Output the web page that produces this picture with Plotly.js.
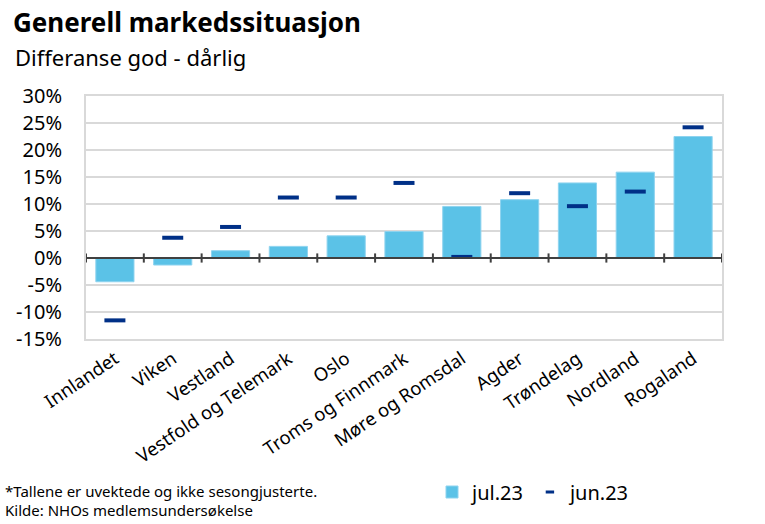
<!DOCTYPE html>
<html>
<head>
<meta charset="utf-8">
<script src="https://cdn.plot.ly/plotly-3.0.1.min.js"></script>
<style>html,body{margin:0;padding:0;background:#fff;}#chart{width:765px;height:524px;}</style>
</head>
<body>
<div id="chart"></div>
<script>
const categories = ["Innlandet","Viken","Vestland","Vestfold og Telemark","Oslo","Troms og Finnmark","Møre og Romsdal","Agder","Trøndelag","Nordland","Rogaland"];
const jul23 = [-4.4, -1.3, 1.35, 2.15, 4.1, 4.9, 9.55, 10.8, 13.9, 15.9, 22.5];
const jun23 = [-11.55, 3.75, 5.75, 11.2, 11.2, 13.9, 0.2, 12.0, 9.6, 12.3, 24.2];
const yTicks = [-15, -10, -5, 0, 5, 10, 15, 20, 25, 30];
const yTickLabels = yTicks.map(v => v + "%");

const FONT = "Noto Sans, Open Sans, sans-serif";
const NAVY = "#003087";

const traces = [
  {
    type: "bar", name: "jul.23", x: categories, y: jul23,
    marker: {color: "#5BC2E7", line: {color: "#8ed3ef", width: 1}},
    hoverinfo: "skip"
  },
  {
    type: "scatter", mode: "markers", name: "jun.23", x: categories, y: jun23, showlegend: false,
    marker: {symbol: "line-ew", size: 15, color: NAVY, line: {color: NAVY, width: 4}},
    hoverinfo: "skip"
  },
  {
    // legend entry only (small dash as in the reference legend)
    type: "scatter", mode: "markers", name: "jun.23", x: [null], y: [null], showlegend: true,
    marker: {symbol: "line-ew", size: 6, color: NAVY, line: {color: NAVY, width: 3}},
    hoverinfo: "skip"
  }
];

// tick marks across the zero line at category boundaries
const shapes = [];
for (let i = 0; i <= categories.length; i++) {
  shapes.push({type: "line", xref: "x", yref: "y", x0: i - 0.5, x1: i - 0.5, y0: -0.85, y1: 0.85,
    line: {color: "#404040", width: 2}});
}
shapes.push({type: "line", xref: "paper", yref: "y", x0: 0, x1: 1, y0: 0, y1: 0, line: {color: "#404040", width: 2}});

const PW = 636, PH = 243, ML = 86, MT = 96;
const layout = {
  width: 765, height: 524,
  margin: {l: ML, r: 43, t: MT, b: 185},
  paper_bgcolor: "#fff", plot_bgcolor: "#fff",
  font: {family: FONT, color: "#000"},
  showlegend: true,
  bargap: 0.34,
  xaxis: {
    type: "category", tickangle: -34, tickfont: {size: 18.5, family: FONT},
    showgrid: false, zeroline: false, ticks: "", showline: true, mirror: true,
    linecolor: "#d9d9d9", linewidth: 2, range: [-0.5, categories.length - 0.5],
    automargin: false
  },
  yaxis: {
    range: [-15, 30], tickvals: yTicks, ticktext: yTickLabels,
    tickfont: {size: 20, family: FONT}, showgrid: true, gridcolor: "#d9d9d9", gridwidth: 1.5,
    zeroline: false, showline: true, mirror: true, linecolor: "#d9d9d9", linewidth: 2,
    ticks: "outside", ticklen: 18, tickcolor: "rgba(0,0,0,0)", automargin: false
  },
  shapes: shapes,
  legend: {
    orientation: "h", x: (432 - ML) / PW, y: -(492 - 339) / PH, xanchor: "left", yanchor: "middle",
    font: {size: 20, family: FONT}, bgcolor: "rgba(0,0,0,0)", itemwidth: 30, traceorder: "normal"
  },
  annotations: [
    {text: "<b>Generell markedssituasjon</b>", xref: "paper", yref: "paper", x: (11 - ML) / PW, y: 1 + (MT - 22) / PH, showarrow: false,
     xanchor: "left", yanchor: "middle", font: {size: 26, family: FONT}},
    {text: "Differanse god - dårlig", xref: "paper", yref: "paper", x: (13 - ML) / PW, y: 1 + (MT - 57) / PH, showarrow: false,
     xanchor: "left", yanchor: "middle", font: {size: 22, family: FONT}},
    {text: "*Tallene er uvektede og ikke sesongjusterte.", xref: "paper", yref: "paper",
     x: (3 - ML) / PW, y: -(491 - 339) / PH, showarrow: false, xanchor: "left", yanchor: "middle", align: "left",
     font: {size: 15, family: FONT}},
    {text: "Kilde: NHOs medlemsundersøkelse", xref: "paper", yref: "paper",
     x: (3 - ML) / PW, y: -(510 - 339) / PH, showarrow: false, xanchor: "left", yanchor: "middle", align: "left",
     font: {size: 15, family: FONT}}
  ]
};

Plotly.newPlot("chart", traces, layout, {displayModeBar: false, staticPlot: true});
</script>
</body>
</html>
